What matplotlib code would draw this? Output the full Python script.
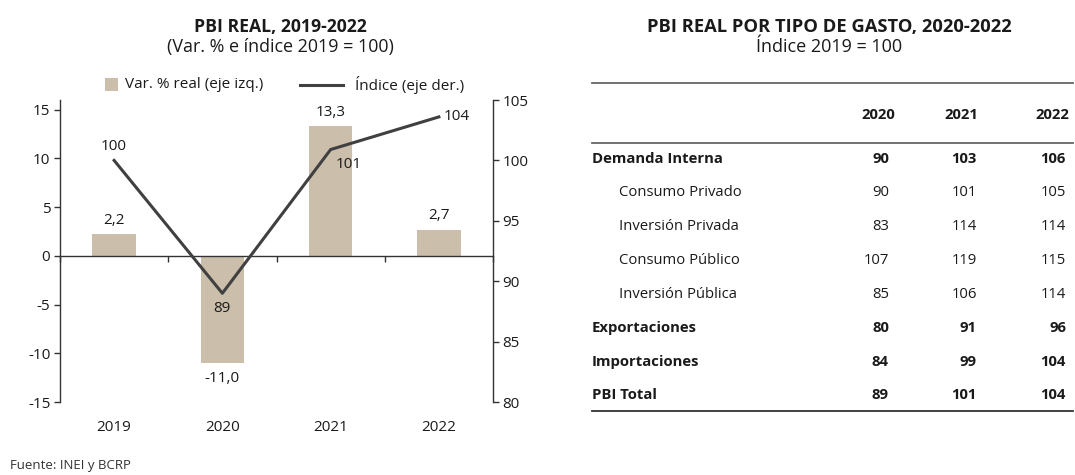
import matplotlib
matplotlib.use("Agg")
import matplotlib.pyplot as plt
from matplotlib.lines import Line2D
from matplotlib.patches import Rectangle
import matplotlib.transforms as mtransforms

plt.rcParams['font.family'] = ['Open Sans', 'DejaVu Sans']

# ---------------- data ----------------
years = ["2019", "2020", "2021", "2022"]
var_real = [2.2, -11.0, 13.3, 2.7]
indice = [100.0, 89.0, 100.9, 103.6]
indice_labels = ["100", "89", "101", "104"]

table_years = ["2020", "2021", "2022"]
table_rows = ["Demanda Interna", "Consumo Privado", "Inversión Privada",
              "Consumo Público", "Inversión Pública", "Exportaciones",
              "Importaciones", "PBI Total"]
table_bold = [True, False, False, False, False, True, True, True]
table_vals = [[90, 103, 106],
              [90, 101, 105],
              [83, 114, 114],
              [107, 119, 115],
              [85, 106, 114],
              [80, 91, 96],
              [84, 99, 104],
              [89, 101, 104]]

# ---------------- figure ----------------
W, H = 1075, 475
fig = plt.figure(figsize=(W / 100, H / 100), dpi=100)
def fx(x): return x / W
def fy(y): return 1 - y / H

bar_color = "#CBBFAB"
line_color = "#404040"
txt = "#1a1a1a"
fs = 11

ax = fig.add_axes([fx(60), fy(402), fx(493) - fx(60), fy(100) - fy(402)])
ax2 = ax.twinx()
ax.set_zorder(ax2.get_zorder() + 1)
ax.patch.set_visible(False)

x = list(range(len(years)))
ax.bar(x, var_real, width=0.4, color=bar_color, zorder=2)
ax.set_xlim(-0.5, len(years) - 0.5)
ax.set_ylim(-15, 16)
ax.set_yticks([-15, -10, -5, 0, 5, 10, 15])
ax.set_yticklabels([str(v) for v in [-15, -10, -5, 0, 5, 10, 15]], fontsize=fs, color=txt)
ax.set_xticks([i - 0.5 for i in range(len(years) + 1)])
ax.set_xticklabels([])
ax.tick_params(axis='x', direction='out', length=4, width=1, color="#333333")
ax.tick_params(axis='y', direction='out', length=4, width=1, color="#333333", pad=3)
ax.spines['top'].set_visible(False)
ax.spines['right'].set_visible(False)
ax.spines['bottom'].set_position(('data', 0))
for s in ['left', 'bottom']:
    ax.spines[s].set_color("#333333")
    ax.spines[s].set_linewidth(1)

ax2.set_ylim(80, 105)
ax2.set_yticks([80, 85, 90, 95, 100, 105])
ax2.set_yticklabels([str(v) for v in [80, 85, 90, 95, 100, 105]], fontsize=fs, color=txt)
ax2.tick_params(axis='y', direction='out', length=4, width=1, color="#333333", pad=3)
for s in ['top', 'left', 'bottom']:
    ax2.spines[s].set_visible(False)
ax2.spines['right'].set_color("#333333")
ax2.spines['right'].set_linewidth(1)

# index line (right-axis scale), drawn on top of the bars
ax.plot(x, indice, color=line_color, lw=2.2, zorder=5, transform=ax2.transData, clip_on=False)

# bar labels
for i, v in enumerate(var_real):
    lab = f"{v:.1f}".replace('.', ',')
    dy = 14 if v >= 0 else -15
    ax.annotate(lab, (i, v), xytext=(0, dy), textcoords='offset pixels',
                ha='center', va='center', fontsize=fs, color=txt)

# index labels
offsets = [((0, 14), 'center'), ((0, -15), 'center'),
           ((18, -15), 'center'), ((5, 0), 'left')]
for i, (v, lab) in enumerate(zip(indice, indice_labels)):
    (dx, dy), ha = offsets[i]
    ax.annotate(lab, (i, v), xycoords=ax2.transData, xytext=(dx, dy),
                textcoords='offset pixels', ha=ha, va='center', fontsize=fs, color=txt, zorder=6)

# category labels at bottom
trans = mtransforms.blended_transform_factory(ax.transData, ax.transAxes)
for i, y in enumerate(years):
    ax.text(i, -0.086, y, transform=trans, ha='center', va='center', fontsize=fs, color=txt)

# titles
fig.text(fx(280), fy(27), "PBI REAL, 2019-2022", ha='center', va='center',
         fontsize=12.7, fontweight='bold', color=txt)
fig.text(fx(280), fy(47), "(Var. % e índice 2019 = 100)", ha='center', va='center',
         fontsize=12.9, color=txt)

# legend (manual)
fig.patches.append(Rectangle((fx(105), fy(91)), fx(13), 13 / H, transform=fig.transFigure,
                             facecolor=bar_color, edgecolor='none'))
fig.text(fx(125), fy(85), "Var. % real (eje izq.)", ha='left', va='center', fontsize=fs, color=txt)
fig.lines.append(Line2D([fx(300), fx(343)], [fy(85), fy(85)], transform=fig.transFigure,
                        color=line_color, lw=2.2))
fig.text(fx(355), fy(85), "Índice (eje der.)", ha='left', va='center', fontsize=fs, color=txt)

# ---------------- table ----------------
tfs = 10.7
fig.text(fx(829), fy(27), "PBI REAL POR TIPO DE GASTO, 2020-2022", ha='center', va='center',
         fontsize=13.2, fontweight='bold', color=txt)
fig.text(fx(829), fy(47), "Índice 2019 = 100", ha='center', va='center',
         fontsize=13, color=txt)

x0, x1 = 592, 1073
for yy, c, lw in [(83, "#666666", 1.3), (143, "#666666", 1.3), (411, "#333333", 1.3)]:
    fig.lines.append(Line2D([fx(x0), fx(x1)], [fy(yy), fy(yy)], transform=fig.transFigure,
                            color=c, lw=lw))

head_right = [895, 978, 1069]
val_right = [889, 977, 1066]
for j, yr in enumerate(table_years):
    fig.text(fx(head_right[j]), fy(115), yr, ha='right', va='center',
             fontsize=tfs, fontweight='bold', color=txt)

row_y = [159, 193, 227, 261, 294, 328, 362, 395]
for r, name in enumerate(table_rows):
    b = table_bold[r]
    xl = 592 if b else 619
    fig.text(fx(xl), fy(row_y[r]), name, ha='left', va='center', fontsize=tfs,
             fontweight='bold' if b else 'normal', color=txt)
    for j, v in enumerate(table_vals[r]):
        fig.text(fx(val_right[j]), fy(row_y[r]), str(v), ha='right', va='center', fontsize=tfs,
                 fontweight='bold' if b else 'normal', color=txt)

fig.text(fx(10), fy(466), "Fuente: INEI y BCRP", ha='left', va='center', fontsize=9.5, color="#333333")

fig.savefig("out.png", dpi=100)
